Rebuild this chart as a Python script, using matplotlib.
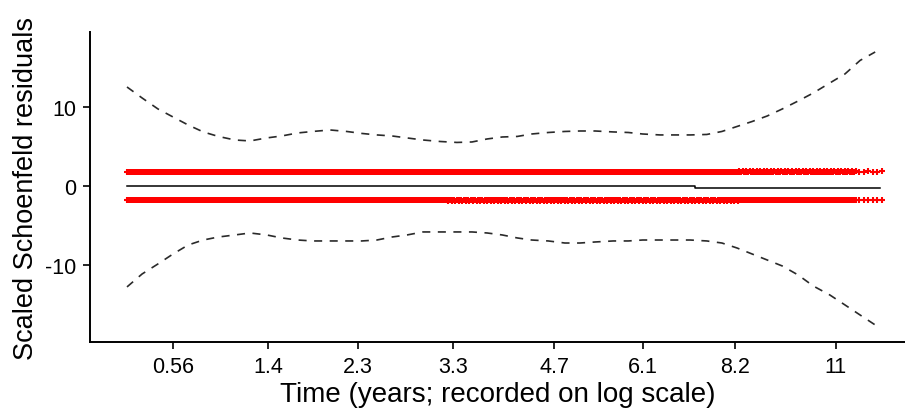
import numpy as np
import matplotlib
matplotlib.use("Agg")
import matplotlib.pyplot as plt

plt.rcParams['font.family'] = ['Liberation Sans', 'DejaVu Sans']
plt.rcParams['lines.scale_dashes'] = False

# Transformed event time (0 = first event, 1 = last event) and tick labels in years
tick_pos = [0.061, 0.187, 0.306, 0.432, 0.566, 0.683, 0.805, 0.939]
tick_labels = ["0.56", "1.4", "2.3", "3.3", "4.7", "6.1", "8.2", "11"]

# Smoothed coefficient estimate beta(t)
beta_t = [0.0, 0.752, 0.752, 0.998]
beta_val = [0.0, 0.0, -0.25, -0.25]

# Pointwise +/- 2 SE band of the smooth
band_t = [0.000, 0.020, 0.041, 0.061, 0.081, 0.101, 0.121, 0.143, 0.163, 0.185,
          0.205, 0.226, 0.246, 0.269, 0.291, 0.311, 0.331, 0.351, 0.371, 0.392,
          0.415, 0.437, 0.457, 0.477, 0.497, 0.517, 0.536, 0.558, 0.580, 0.600,
          0.620, 0.644, 0.664, 0.683, 0.706, 0.726, 0.746, 0.768, 0.788, 0.808,
          0.828, 0.848, 0.868, 0.889, 0.909, 0.931, 0.951, 0.971, 0.991]
band_upper = [12.53, 11.14, 9.75, 8.73, 7.72, 6.84, 6.27, 5.82, 5.70, 6.08,
              6.33, 6.71, 6.90, 7.09, 6.90, 6.65, 6.46, 6.33, 6.08, 5.82,
              5.63, 5.51, 5.57, 5.95, 6.20, 6.27, 6.58, 6.77, 6.90, 6.96,
              6.96, 6.84, 6.77, 6.58, 6.46, 6.46, 6.46, 6.52, 6.90, 7.53,
              8.16, 8.86, 9.75, 10.76, 11.77, 13.04, 14.18, 15.89, 16.96]
band_lower = [-12.78, -11.14, -9.87, -8.61, -7.47, -6.84, -6.46, -6.20, -5.95, -6.20,
              -6.58, -6.84, -6.96, -6.96, -6.96, -6.96, -6.84, -6.46, -6.20, -5.82,
              -5.82, -5.82, -5.82, -5.95, -6.20, -6.58, -6.84, -6.96, -7.22, -7.22,
              -7.09, -6.96, -6.96, -6.84, -6.84, -6.84, -6.84, -6.96, -7.22, -7.85,
              -8.61, -9.37, -10.13, -11.27, -12.66, -13.80, -15.06, -16.33, -17.59]

# Scaled Schoenfeld residuals: two levels (covariate = 1 / covariate = 0)
resid_levels = [1.75, -1.75]
resid_shifted = [1.86, -1.88]        # slightly larger residuals later in follow-up
shift_ranges = [(0.81, 1.0), (0.425, 0.81)]
# event groups: (first event time, last event time, number of events)
event_groups = [(0.0, 0.965, 620), (0.970, 1.0, 6)]

fig = plt.figure(figsize=(9.05, 4.14), dpi=100)
ax = fig.add_axes([90 / 905, 71 / 414, 815 / 905, 310 / 414])

ev_t = np.concatenate([np.linspace(a, b, n) for a, b, n in event_groups])
for lev, shifted, (lo, hi) in zip(resid_levels, resid_shifted, shift_ranges):
    r = np.full(ev_t.size, lev)
    idx = np.where((ev_t >= lo) & (ev_t <= hi))[0]
    r[idx[::3]] = shifted
    ax.plot(ev_t, r, linestyle='none', marker='+', markersize=4.6,
            color='#ff0000', markeredgewidth=1.5)

ax.plot(beta_t, beta_val, color='black', lw=1.1)
ax.plot(band_t, band_upper, color='#2a2a2a', lw=1.2, linestyle=(0, (5.8, 5.4)))
ax.plot(band_t, band_lower, color='#2a2a2a', lw=1.2, linestyle=(0, (5.8, 5.4)))

ax.set_xlim(-0.049, 1.0305)
ax.set_ylim(-19.75, 19.49)
ax.set_xticks(tick_pos)
ax.set_xticklabels(tick_labels)
ax.set_yticks([-10, 0, 10])
ax.set_yticklabels(["-10", "0", "10"])

for side in ('top', 'right'):
    ax.spines[side].set_visible(False)
for side in ('left', 'bottom'):
    ax.spines[side].set_linewidth(1.4)
ax.tick_params(axis='both', direction='out', length=5, width=1.2, labelsize=15.5,
               colors='black', pad=5)

ax.set_xlabel("Time (years; recorded on log scale)", fontsize=20, labelpad=3)
ax.set_ylabel("Scaled Schoenfeld residuals", fontsize=19.5, labelpad=4)

fig.savefig("out.png", dpi=100)
